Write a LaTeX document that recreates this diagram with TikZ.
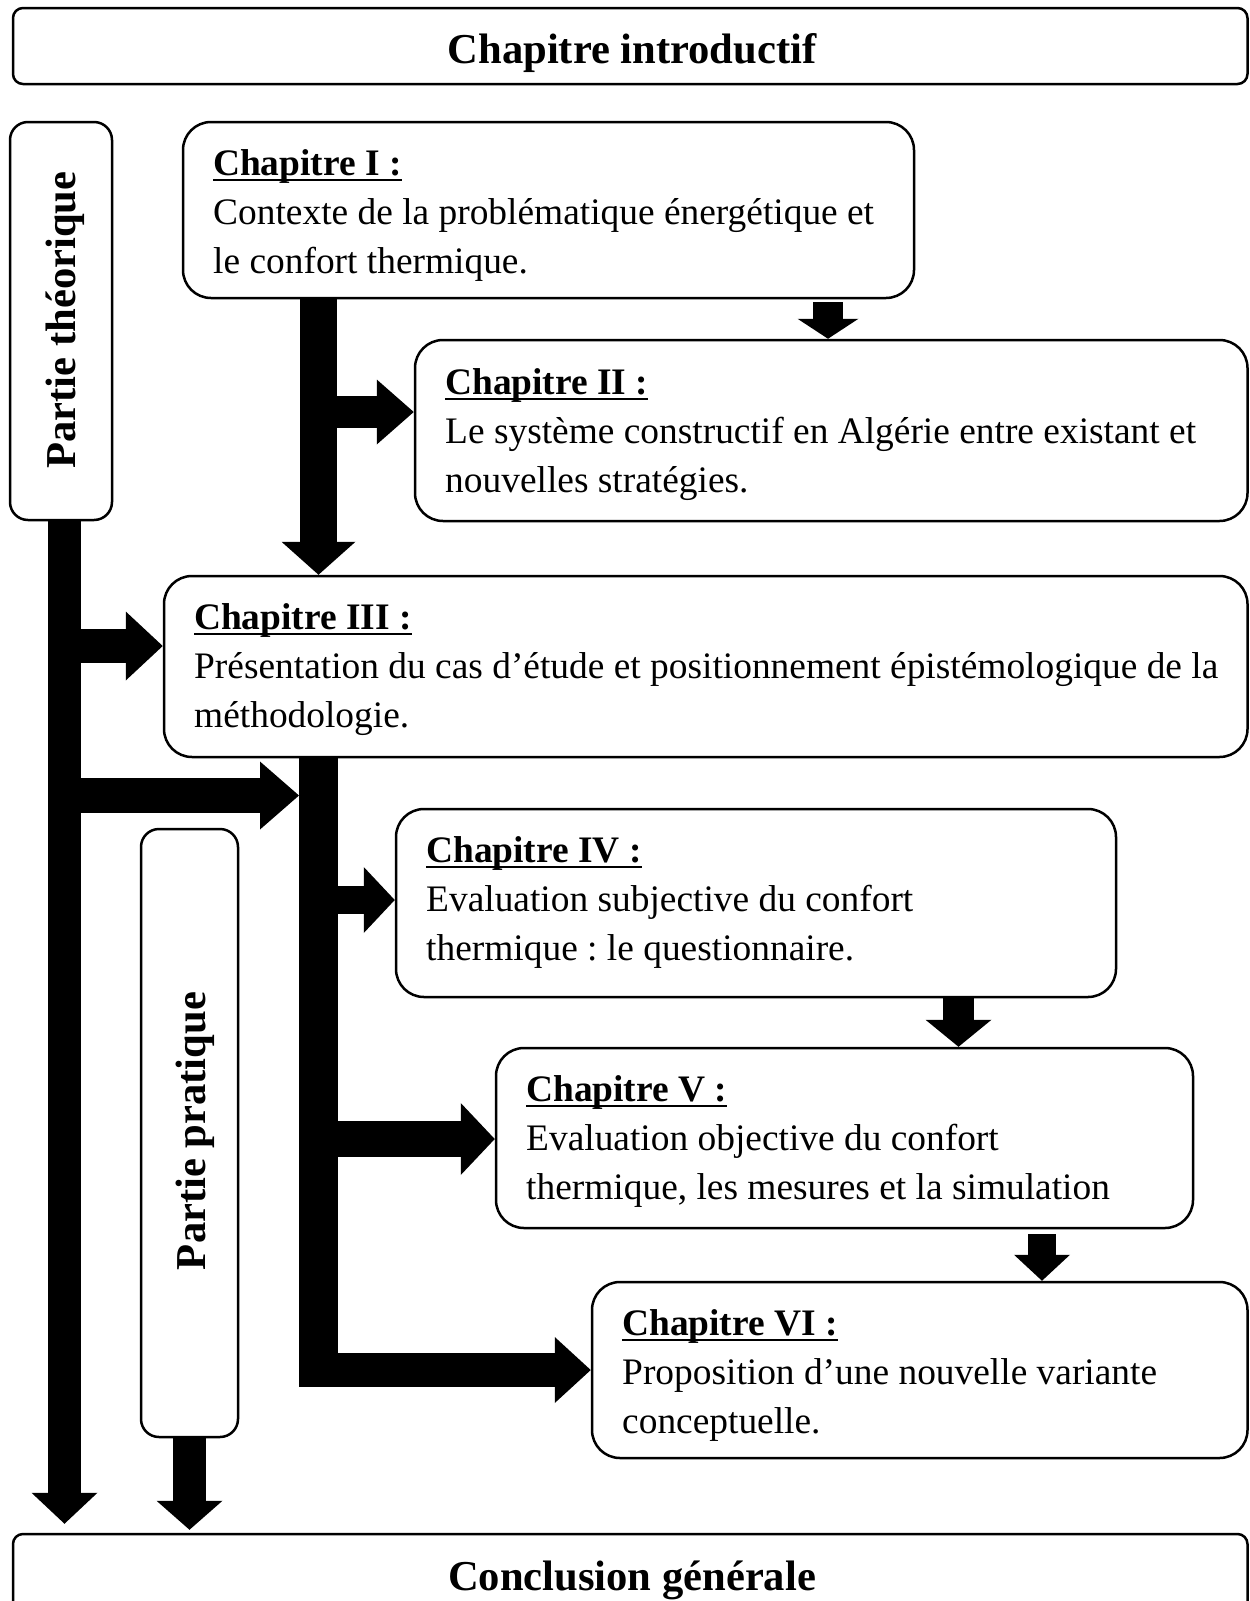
\documentclass[tikz,border=0pt]{standalone}
\usepackage{fontspec}
\setmainfont{Liberation Serif}
\usetikzlibrary{arrows.meta,fit}
\frenchspacing
\newsavebox\ulbx
\newcommand\ulh[1]{\sbox\ulbx{\bfseries #1}\rlap{\rule[-6.3pt]{\wd\ulbx}{2.8pt}}\usebox\ulbx}
\begin{document}
\begin{tikzpicture}[x=1pt,y=-1pt,
  box/.style={draw, line width=2.5pt, inner sep=0pt, rounded corners=#1},
  box/.default=28pt,
  ttl/.style={inner sep=0pt, font=\fontsize{42.6pt}{50pt}\selectfont\bfseries},
  chap/.style={inner sep=0pt, anchor=base west, font=\fontsize{37.4pt}{49pt}\selectfont\frenchspacing},
  blk/.style n args={3}{line width=#1pt, -{Triangle[width=#2pt 0 0, length=#3pt 0 0, line width=0pt 0 0]}},
  bar/.style={line width=#1pt}]
\useasboundingbox (0,0) rectangle (1250,1601);
\clip (0,0) rectangle (1250,1601);

% boxes
\node[box=10pt, fit={(13,8) (1247.5,84)}] (intro) {};
\node[box=18pt, fit={(10,122) (112,520)}] (pt) {};
\node[box, fit={(183,122) (914,298)}] (c1) {};
\node[box, fit={(415,340) (1247.5,521)}] (c2) {};
\node[box, fit={(164,576) (1247.5,757)}] (c3) {};
\node[box, fit={(396,809) (1116,997)}] (c4) {};
\node[box, fit={(496,1048) (1193,1228)}] (c5) {};
\node[box, fit={(592,1282) (1247.5,1458)}] (c6) {};
\node[box=18pt, fit={(141,829) (238,1437)}] (pp) {};
\node[box=10pt, fit={(13,1534) (1247.5,1625)}] (cg) {};

% titles
\node[ttl, anchor=base] (tintro) at (632,63) {Chapitre introductif};
\node[ttl, anchor=base, rotate=90] (tpt) at (75,320) {Partie théorique};
\node[ttl, anchor=base, rotate=90] (tpp) at (205,1131) {Partie pratique};
\node[ttl, anchor=base] (tcg) at (632,1590) {Conclusion générale};

% chapter texts
\node[chap] (t1) at (213,175) {\begin{tabular}[t]{@{}l@{}}\ulh{Chapitre I :}\\Contexte de la problématique énergétique et\\le confort thermique.\end{tabular}};
\node[chap] (t2) at (445,394) {\begin{tabular}[t]{@{}l@{}}\ulh{Chapitre II :}\\Le système constructif en Algérie entre existant et\\nouvelles stratégies.\end{tabular}};
\node[chap] (t3) at (194,629) {\begin{tabular}[t]{@{}l@{}}\ulh{Chapitre III :}\\Présentation du cas d’étude et positionnement épistémologique de la\\méthodologie.\end{tabular}};
\node[chap] (t4) at (426,862) {\begin{tabular}[t]{@{}l@{}}\ulh{Chapitre IV :}\\Evaluation subjective du confort\\thermique : le questionnaire.\end{tabular}};
\node[chap] (t5) at (526,1101) {\begin{tabular}[t]{@{}l@{}}\ulh{Chapitre V :}\\Evaluation objective du confort\\thermique, les mesures et la simulation\end{tabular}};
\node[chap] (t6) at (622,1335) {\begin{tabular}[t]{@{}l@{}}\ulh{Chapitre VI :}\\Proposition d’une nouvelle variante\\conceptuelle.\end{tabular}};

% reference coordinates
\coordinate (xa) at (318.5,0);
\coordinate (xa2) at (299,0);
\coordinate (xl) at (64.5,0);
\coordinate (x12) at (828,0);
\coordinate (x45) at (958.5,0);
\coordinate (x56) at (1042,0);
\coordinate (y2) at (0,412);
\coordinate (y3) at (0,646);
\coordinate (y4) at (0,795.5);
\coordinate (y6) at (0,900);
\coordinate (y7) at (0,1139);
\coordinate (y8) at (0,1370);
\coordinate (y8b) at (0,1387);

% block arrows
\draw[blk={30}{61}{20}, shorten <=3pt] (x12 |- c1.south) -- (x12 |- c2.north);
\draw[blk={37}{74}{33}] (xa |- c1.south) -- (xa |- c3.north);
\draw[blk={32}{65}{37}] (xa |- y2) -- (c2.west |- y2);
\draw[blk={33}{66}{31}, shorten >=9pt] (xl |- pt.south) -- (xl |- cg.north);
\draw[blk={34}{69}{37}] (xl |- y3) -- (c3.west |- y3);
\draw[blk={35}{68}{39}] (xl |- y4) -- (xa2 |- y4);
\draw[bar=39] (xa |- c3.south) -- (xa |- y8b);
\draw[blk={28}{66}{31}] (xa |- y6) -- (c4.west |- y6);
\draw[blk={36}{72}{34}] (xa |- y7) -- (c5.west |- y7);
\draw[blk={34}{66}{36}] (xa2 |- y8) -- (c6.west |- y8);
\draw[blk={31}{66}{27}] (x45 |- c4.south) -- (x45 |- c5.north);
\draw[blk={28}{56}{26}, shorten <=5pt] (x56 |- c5.south) -- (x56 |- c6.north);
\draw[blk={33}{66}{29}, shorten >=3pt] (pp.south) -- (pp.south |- cg.north);
\end{tikzpicture}
\end{document}
